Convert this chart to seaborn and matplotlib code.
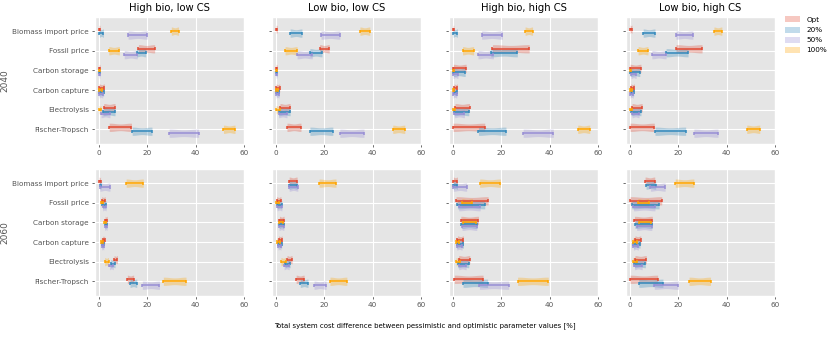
import matplotlib
matplotlib.use("Agg")
import matplotlib.pyplot as plt
import seaborn as sns
import pandas as pd
import numpy as np
from matplotlib.patches import Patch

categories = ["Biomass import price", "Fossil price", "Carbon storage",
              "Carbon capture", "Electrolysis", "Fischer-Tropsch"]
scenarios = ["Opt", "20%", "50%", "100%"]
col_titles = ["High bio, low CS", "Low bio, low CS", "High bio, high CS", "Low bio, high CS"]
years = ["2040", "2060"]
xticks = [0, 20, 40, 60]

# each row = category; each entry = (low, high) for Opt, 20%, 50%, 100%
y2040_hb_lcs = [
    [(0.0, 0.4), (0.1, 1.8), (12.0, 19.9), (29.9, 32.9)],
    [(16.3, 23.0), (15.5, 19.3), (10.4, 15.8), (4.0, 8.4)],
    [(0.0, 0.4), (0.0, 0.3), (0.0, 0.3), (0.0, 0.3)],
    [(0.0, 2.2), (0.0, 1.9), (0.0, 1.5), (0.0, 1.0)],
    [(1.9, 6.6), (1.6, 6.6), (0.8, 4.5), (0.0, 0.8)],
    [(4.2, 13.4), (13.7, 21.9), (29.0, 41.2), (51.5, 56.3)],
]
y2040_lb_lcs = [
    [(0.0, 0.5), (5.8, 10.7), (18.6, 26.4), (34.7, 38.8)],
    [(18.0, 22.0), (14.0, 19.0), (8.7, 15.0), (3.7, 8.7)],
    [(0.0, 0.5), (0.0, 0.4), (0.0, 0.4), (0.0, 0.3)],
    [(0.0, 1.5), (0.0, 1.3), (0.0, 1.2), (0.0, 0.8)],
    [(1.6, 5.8), (1.0, 5.8), (1.0, 4.5), (0.0, 1.5)],
    [(4.5, 10.3), (14.0, 23.5), (26.4, 36.4), (48.3, 53.3)],
]
y2040_hb_hcs = [
    [(0.0, 0.3), (0.0, 1.8), (11.8, 20.4), (29.8, 32.9)],
    [(16.3, 31.5), (15.6, 26.6), (10.3, 16.7), (3.9, 8.5)],
    [(0.1, 5.4), (0.1, 5.0), (0.0, 2.0), (0.0, 0.4)],
    [(0.4, 1.8), (0.4, 1.5), (0.0, 1.5), (0.0, 0.5)],
    [(0.8, 6.8), (0.4, 6.5), (0.5, 4.7), (0.0, 0.7)],
    [(0.0, 13.1), (10.5, 21.9), (29.0, 41.5), (51.6, 56.6)],
]
y2040_lb_hcs = [
    [(0.0, 0.8), (5.4, 10.3), (19.0, 26.0), (34.7, 38.0)],
    [(19.0, 29.8), (14.9, 24.0), (9.0, 14.9), (3.3, 7.4)],
    [(0.0, 4.5), (0.0, 4.0), (0.4, 2.5), (0.0, 0.4)],
    [(0.3, 1.8), (0.2, 1.5), (0.0, 1.3), (0.0, 0.6)],
    [(0.8, 5.0), (0.4, 4.5), (0.8, 3.7), (0.0, 0.8)],
    [(0.0, 10.0), (10.3, 23.0), (26.4, 36.4), (48.3, 53.7)],
]
y2060_hb_lcs = [
    [(0.0, 0.6), (0.2, 0.9), (0.3, 4.5), (11.2, 18.3)],
    [(1.1, 2.5), (1.4, 2.9), (1.5, 2.9), (0.8, 1.8)],
    [(2.5, 3.4), (2.3, 3.2), (2.3, 3.3), (2.2, 3.0)],
    [(1.5, 2.3), (1.1, 1.9), (1.1, 1.9), (0.8, 1.5)],
    [(6.2, 7.6), (4.8, 6.6), (4.3, 5.9), (2.3, 3.9)],
    [(11.7, 14.3), (12.8, 15.6), (17.9, 25.0), (26.6, 36.0)],
]
y2060_lb_lcs = [
    [(5.4, 8.7), (5.4, 8.7), (5.4, 9.0), (17.8, 24.8)],
    [(0.2, 2.0), (0.4, 2.4), (0.4, 2.4), (0.0, 1.3)],
    [(1.4, 3.3), (1.3, 3.2), (1.2, 3.2), (1.2, 3.0)],
    [(1.0, 2.5), (0.8, 2.3), (0.8, 2.0), (0.4, 1.6)],
    [(4.5, 6.6), (3.7, 5.8), (3.3, 5.4), (2.0, 4.0)],
    [(8.3, 11.6), (10.0, 13.2), (15.7, 20.7), (22.3, 29.3)],
]
y2060_hb_hcs = [
    [(0.1, 1.8), (0.1, 1.8), (0.1, 5.6), (11.0, 19.6)],
    [(1.2, 14.5), (1.8, 13.1), (2.3, 11.2), (3.6, 8.0)],
    [(3.2, 10.5), (3.4, 10.0), (3.7, 9.8), (4.0, 9.5)],
    [(1.8, 4.3), (1.5, 4.3), (1.5, 3.7), (1.0, 2.6)],
    [(2.3, 6.9), (1.9, 6.5), (2.3, 5.4), (1.2, 2.9)],
    [(0.5, 12.4), (4.1, 14.3), (10.9, 23.0), (26.7, 39.4)],
]
y2060_lb_hcs = [
    [(6.2, 10.2), (6.6, 10.6), (8.4, 14.5), (18.7, 26.4)],
    [(0.0, 13.1), (0.7, 12.0), (1.4, 10.3), (3.2, 7.7)],
    [(1.8, 9.2), (2.0, 9.2), (2.7, 9.0), (3.6, 8.5)],
    [(2.0, 4.4), (1.4, 4.1), (1.4, 3.4), (1.1, 2.8)],
    [(2.0, 6.7), (1.8, 6.3), (1.8, 5.0), (1.1, 2.8)],
    [(0.0, 11.4), (3.6, 13.6), (10.0, 20.0), (24.4, 33.3)],
]

panels = [
    [y2040_hb_lcs, y2040_lb_lcs, y2040_hb_hcs, y2040_lb_hcs],
    [y2060_hb_lcs, y2060_lb_lcs, y2060_hb_hcs, y2060_lb_hcs],
]

colors = ["#E24A33", "#348ABD", "#988ED5", "#FFA500"]
offsets = [-0.1, 0.1, 0.2, 0.0]   # vertical offset of each scenario within a category
vwidth_factor = 4.2               # violin width relative to the 0.1 position spacing
cap = 0.16

plt.style.use("ggplot")
plt.rcParams["font.family"] = ["DejaVu Sans"]

fig, axes = plt.subplots(2, 4, figsize=(8.3, 3.37), dpi=100)
fig.subplots_adjust(left=95 / 830, right=775 / 830, top=1 - 17 / 337, bottom=1 - 296 / 337,
                    wspace=0.188, hspace=0.197)

for r in range(2):
    for c in range(4):
        ax = axes[r, c]
        data = panels[r][c]
        rows = []
        for i, cat in enumerate(categories):
            for k, s in enumerate(scenarios):
                lo, hi = data[i][k]
                pos = round(i + offsets[k], 3)
                rows.append((lo, pos, s))
                rows.append((hi, pos, s))
        df = pd.DataFrame(rows, columns=["val", "pos", "scen"])
        sns.violinplot(data=df, x="val", y="pos", hue="scen", hue_order=scenarios,
                       palette=colors, orient="h", native_scale=True, dodge=False,
                       cut=0, inner=None, density_norm="width", width=vwidth_factor,
                       saturation=1, linewidth=0, bw_adjust=0.62, legend=False,
                       alpha=0.3, ax=ax)
        for i in range(len(categories)):
            for k in range(len(scenarios)):
                lo, hi = data[i][k]
                pos = i + offsets[k]
                ax.hlines(pos, lo, hi, color=colors[k], lw=1.1, zorder=5)
                ax.vlines([lo, hi], pos - cap / 2, pos + cap / 2,
                          color=colors[k], lw=1.1, zorder=5)
        ax.set_xlim(-1.7, 60)
        ax.set_xticks(xticks)
        ax.set_yticks(range(len(categories)))
        if c == 0:
            ax.set_yticklabels(categories)
            ax.set_ylabel(years[r], fontsize=6.5, color="#555555", labelpad=2)
        else:
            ax.set_yticklabels([])
            ax.set_ylabel("")
        ax.set_ylim(5.75, -0.72)
        ax.set_xlabel("")
        ax.tick_params(labelsize=5.2, length=2.5, width=0.6, pad=2)
        if r == 0:
            ax.set_title(col_titles[c], fontsize=7.2, pad=4, color="black")

fig.text(425 / 830, 1 - 326 / 337,
         "Total system cost difference between pessimistic and optimistic parameter values [%]",
         ha="center", va="center", fontsize=5)

handles = [Patch(facecolor=col, alpha=0.3, edgecolor="none") for col in colors]
fig.legend(handles, scenarios, loc="upper left", bbox_to_anchor=(778 / 830, 1 - 10 / 337),
           frameon=False, fontsize=5.2, handlelength=2.2, handleheight=0.9, labelspacing=0.5)

fig.savefig("out.png", dpi=100)
